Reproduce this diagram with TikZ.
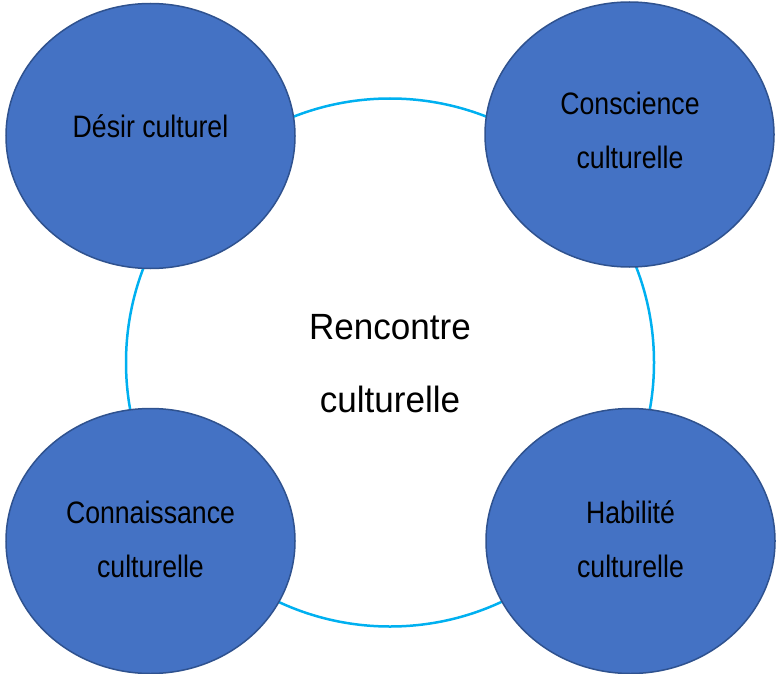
\documentclass[tikz,border=0pt]{standalone}
\usepackage{fontspec}
\setmainfont{Liberation Sans}
\newfontfamily\ellfont[FakeStretch=0.86]{Liberation Sans}
\newfontfamily\cenfont[FakeStretch=0.96]{Liberation Sans}
\usetikzlibrary{shapes.geometric}
\definecolor{ringblue}{HTML}{00B0F0}
\definecolor{ellfill}{HTML}{4472C4}
\definecolor{elledge}{HTML}{2F528F}
\tikzset{
  ring/.style={circle, draw=ringblue, line width=2.5pt, minimum size=528pt, inner sep=0pt, outer sep=0pt},
  blob/.style={ellipse, fill=ellfill, draw=elledge, line width=1.5pt, minimum width=289pt, minimum height=265pt, inner sep=0pt, outer sep=0pt},
  elltext/.style={anchor=base, inner sep=0pt, text=black, font=\ellfont\fontsize{31}{36}\selectfont},
  centext/.style={anchor=base, inner sep=0pt, text=black, font=\cenfont\fontsize{36.5}{42}\selectfont}
}
\begin{document}
\begin{tikzpicture}[x=1pt, y=-1pt]
\useasboundingbox (0,0) rectangle (776,674);
\node[ring] (ring) at (390,362.5) {};
\node[blob] (desir) at (150.5,136) {};
\node[blob] (consc) at (629.5,134.5) {};
\node[blob] (conn) at (150.5,541) {};
\node[blob] (habil) at (630.5,541) {};
\node[elltext] (t1) at (150.5,138) {Désir culturel};
\node[elltext] (t2a) at (630,114) {Conscience};
\node[elltext] (t2b) at (630,168) {culturelle};
\node[elltext] (t3a) at (150.5,523) {Connaissance};
\node[elltext] (t3b) at (150.5,577) {culturelle};
\node[elltext] (t4a) at (630.5,523) {Habilité};
\node[elltext] (t4b) at (630.5,577) {culturelle};
\node[centext] (c1) at (390,339) {Rencontre};
\node[centext] (c2) at (390,412) {culturelle};
\end{tikzpicture}
\end{document}
